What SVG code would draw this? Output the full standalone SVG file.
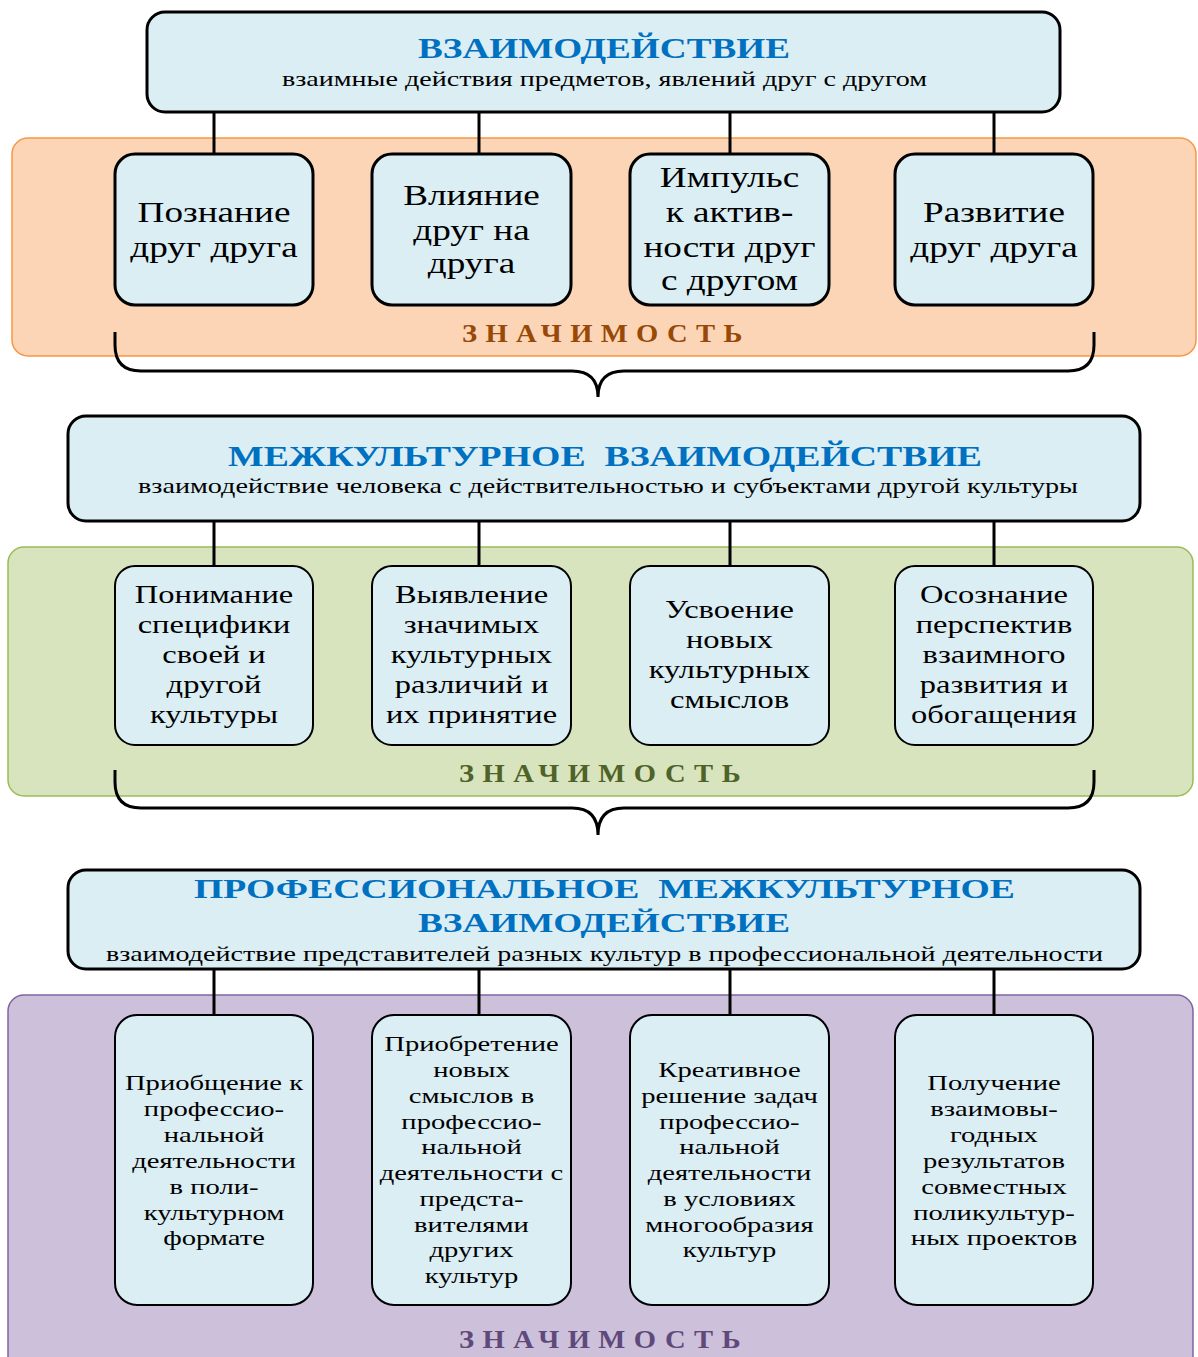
<svg xmlns="http://www.w3.org/2000/svg" width="1198" height="1357" viewBox="0 0 1198 1357">
<style>
.box{fill:#DBEEF4;stroke:#000;}
.hdr{stroke-width:3;}
.b1{stroke-width:3;}
.b2{stroke-width:2;}
.b3{stroke-width:2;}
.title{font-family:"Liberation Serif","Times New Roman",serif;font-weight:bold;fill:#0070C0;white-space:pre;}
.sub{font-family:"Liberation Serif","Times New Roman",serif;fill:#000;}
.t{font-family:"Liberation Serif","Times New Roman",serif;fill:#000;text-anchor:middle;}
.t1{font-size:30px;}
.t2{font-size:25px;}
.t3{font-size:22px;}
.zn{font-family:"Liberation Serif","Times New Roman",serif;font-weight:bold;font-size:26px;}
.conn line{stroke:#000;stroke-width:3;}
.brace{fill:none;stroke:#000;stroke-width:3;}
</style>

<g id="panel-orange"><rect x="12" y="138" width="1184" height="218" rx="16" fill="#FBD5B5" stroke="#F79646" stroke-width="1.5"/></g>
<g id="panel-green"><rect x="8" y="547" width="1185" height="249" rx="16" fill="#D7E4BD" stroke="#9BBB59" stroke-width="1.5"/></g>
<g id="panel-purple"><rect x="8" y="995" width="1185" height="390" rx="16" fill="#CCC0DA" stroke="#8064A2" stroke-width="1.5"/></g>

<g id="connectors" class="conn">
<line x1="214" y1="112" x2="214" y2="154"/>
<line x1="479" y1="112" x2="479" y2="154"/>
<line x1="730" y1="112" x2="730" y2="154"/>
<line x1="994" y1="112" x2="994" y2="154"/>
<line x1="214" y1="521" x2="214" y2="566"/>
<line x1="479" y1="521" x2="479" y2="566"/>
<line x1="730" y1="521" x2="730" y2="566"/>
<line x1="994" y1="521" x2="994" y2="566"/>
<line x1="214" y1="969" x2="214" y2="1015"/>
<line x1="479" y1="969" x2="479" y2="1015"/>
<line x1="730" y1="969" x2="730" y2="1015"/>
<line x1="994" y1="969" x2="994" y2="1015"/>
<path class="brace" d="M115,332 L115,345 Q115,371 141,371 L572,371 Q598,371 598,397 Q598,371 624,371 L1068,371 Q1094,371 1094,345 L1094,332"/>
<path class="brace" d="M115,770 L115,782 Q115,808 141,808 L572,808 Q598,808 598,835 Q598,808 624,808 L1068,808 Q1094,808 1094,782 L1094,770"/>
</g>

<g id="header1">
<rect class="box hdr" x="147" y="12" width="913" height="100" rx="18"/>
<text class="title" x="418" y="58" font-size="29" textLength="372" lengthAdjust="spacingAndGlyphs">ВЗАИМОДЕЙСТВИЕ</text>
<text class="sub" x="282" y="86" font-size="22" textLength="645" lengthAdjust="spacingAndGlyphs">взаимные действия предметов, явлений друг с другом</text>
</g>

<g id="n1-1"><rect class="box b1" x="115" y="154" width="198" height="151" rx="20"/>
<text class="t t1" transform="translate(214 0) scale(1.24 1)"><tspan x="0" y="222">Познание</tspan><tspan x="0" y="257">друг друга</tspan></text></g>
<g id="n1-2"><rect class="box b1" x="372" y="154" width="199" height="151" rx="20"/>
<text class="t t1" transform="translate(471.5 0) scale(1.24 1)"><tspan x="0" y="205">Влияние</tspan><tspan x="0" y="240">друг на</tspan><tspan x="0" y="273">друга</tspan></text></g>
<g id="n1-3"><rect class="box b1" x="630" y="154" width="199" height="151" rx="20"/>
<text class="t t1" transform="translate(729.5 0) scale(1.24 1)"><tspan x="0" y="187">Импульс</tspan><tspan x="0" y="222">к актив-</tspan><tspan x="0" y="257">ности друг</tspan><tspan x="0" y="290">с другом</tspan></text></g>
<g id="n1-4"><rect class="box b1" x="895" y="154" width="198" height="151" rx="20"/>
<text class="t t1" transform="translate(994 0) scale(1.24 1)"><tspan x="0" y="222">Развитие</tspan><tspan x="0" y="257">друг друга</tspan></text></g>

<g id="label1"><text class="zn" transform="translate(462 0) scale(1.1 1)" x="0" y="342" fill="#984807" textLength="255" lengthAdjust="spacing">ЗНАЧИМОСТЬ</text></g>

<g id="header2">
<rect class="box hdr" x="68" y="416" width="1072" height="105" rx="18"/>
<text class="title" x="228" y="466" font-size="30" textLength="754" lengthAdjust="spacingAndGlyphs">МЕЖКУЛЬТУРНОЕ  ВЗАИМОДЕЙСТВИЕ</text>
<text class="sub" x="138" y="493" font-size="22" textLength="940" lengthAdjust="spacingAndGlyphs">взаимодействие человека с действительностью и субъектами другой культуры</text>
</g>

<g id="n2-1"><rect class="box b2" x="115" y="566" width="198" height="179" rx="20"/>
<text class="t t2" transform="translate(214 0) scale(1.3 1)"><tspan x="0" y="603">Понимание</tspan><tspan x="0" y="633">специфики</tspan><tspan x="0" y="663">своей и</tspan><tspan x="0" y="693">другой</tspan><tspan x="0" y="723">культуры</tspan></text></g>
<g id="n2-2"><rect class="box b2" x="372" y="566" width="199" height="179" rx="20"/>
<text class="t t2" transform="translate(471.5 0) scale(1.3 1)"><tspan x="0" y="603">Выявление</tspan><tspan x="0" y="633">значимых</tspan><tspan x="0" y="663">культурных</tspan><tspan x="0" y="693">различий и</tspan><tspan x="0" y="723">их принятие</tspan></text></g>
<g id="n2-3"><rect class="box b2" x="630" y="566" width="199" height="179" rx="20"/>
<text class="t t2" transform="translate(729.5 0) scale(1.3 1)"><tspan x="0" y="618">Усвоение</tspan><tspan x="0" y="648">новых</tspan><tspan x="0" y="678">культурных</tspan><tspan x="0" y="708">смыслов</tspan></text></g>
<g id="n2-4"><rect class="box b2" x="895" y="566" width="198" height="179" rx="20"/>
<text class="t t2" transform="translate(994 0) scale(1.3 1)"><tspan x="0" y="603">Осознание</tspan><tspan x="0" y="633">перспектив</tspan><tspan x="0" y="663">взаимного</tspan><tspan x="0" y="693">развития и</tspan><tspan x="0" y="723">обогащения</tspan></text></g>

<g id="label2"><text class="zn" transform="translate(459 0) scale(1.1 1)" x="0" y="782" fill="#4F6228" textLength="256" lengthAdjust="spacing">ЗНАЧИМОСТЬ</text></g>

<g id="header3">
<rect class="box hdr" x="68" y="870" width="1072" height="99" rx="18"/>
<text class="title" x="194" y="898" font-size="28" textLength="821" lengthAdjust="spacingAndGlyphs">ПРОФЕССИОНАЛЬНОЕ  МЕЖКУЛЬТУРНОЕ</text>
<text class="title" x="418" y="932" font-size="28" textLength="372" lengthAdjust="spacingAndGlyphs">ВЗАИМОДЕЙСТВИЕ</text>
<text class="sub" x="106" y="961" font-size="22" textLength="997" lengthAdjust="spacingAndGlyphs">взаимодействие представителей разных культур в профессиональной деятельности</text>
</g>

<g id="n3-1"><rect class="box b3" x="115" y="1015" width="198" height="290" rx="22"/>
<text class="t t3" transform="translate(214 0) scale(1.3 1)"><tspan x="0" y="1090">Приобщение к</tspan><tspan x="0" y="1116">профессио-</tspan><tspan x="0" y="1142">нальной</tspan><tspan x="0" y="1168">деятельности</tspan><tspan x="0" y="1194">в поли-</tspan><tspan x="0" y="1220">культурном</tspan><tspan x="0" y="1245">формате</tspan></text></g>
<g id="n3-2"><rect class="box b3" x="372" y="1015" width="199" height="290" rx="22"/>
<text class="t t3" transform="translate(471.5 0) scale(1.3 1)"><tspan x="0" y="1051">Приобретение</tspan><tspan x="0" y="1077">новых</tspan><tspan x="0" y="1103">смыслов в</tspan><tspan x="0" y="1129">профессио-</tspan><tspan x="0" y="1154">нальной</tspan><tspan x="0" y="1180">деятельности с</tspan><tspan x="0" y="1206">предста-</tspan><tspan x="0" y="1232">вителями</tspan><tspan x="0" y="1257">других</tspan><tspan x="0" y="1283">культур</tspan></text></g>
<g id="n3-3"><rect class="box b3" x="630" y="1015" width="199" height="290" rx="22"/>
<text class="t t3" transform="translate(729.5 0) scale(1.3 1)"><tspan x="0" y="1077">Креативное</tspan><tspan x="0" y="1103">решение задач</tspan><tspan x="0" y="1129">профессио-</tspan><tspan x="0" y="1154">нальной</tspan><tspan x="0" y="1180">деятельности</tspan><tspan x="0" y="1206">в условиях</tspan><tspan x="0" y="1232">многообразия</tspan><tspan x="0" y="1257">культур</tspan></text></g>
<g id="n3-4"><rect class="box b3" x="895" y="1015" width="198" height="290" rx="22"/>
<text class="t t3" transform="translate(994 0) scale(1.3 1)"><tspan x="0" y="1090">Получение</tspan><tspan x="0" y="1116">взаимовы-</tspan><tspan x="0" y="1142">годных</tspan><tspan x="0" y="1168">результатов</tspan><tspan x="0" y="1194">совместных</tspan><tspan x="0" y="1220">поликультур-</tspan><tspan x="0" y="1245">ных проектов</tspan></text></g>

<g id="label3"><text class="zn" transform="translate(459 0) scale(1.1 1)" x="0" y="1348" fill="#5F497A" textLength="256" lengthAdjust="spacing">ЗНАЧИМОСТЬ</text></g>
</svg>
